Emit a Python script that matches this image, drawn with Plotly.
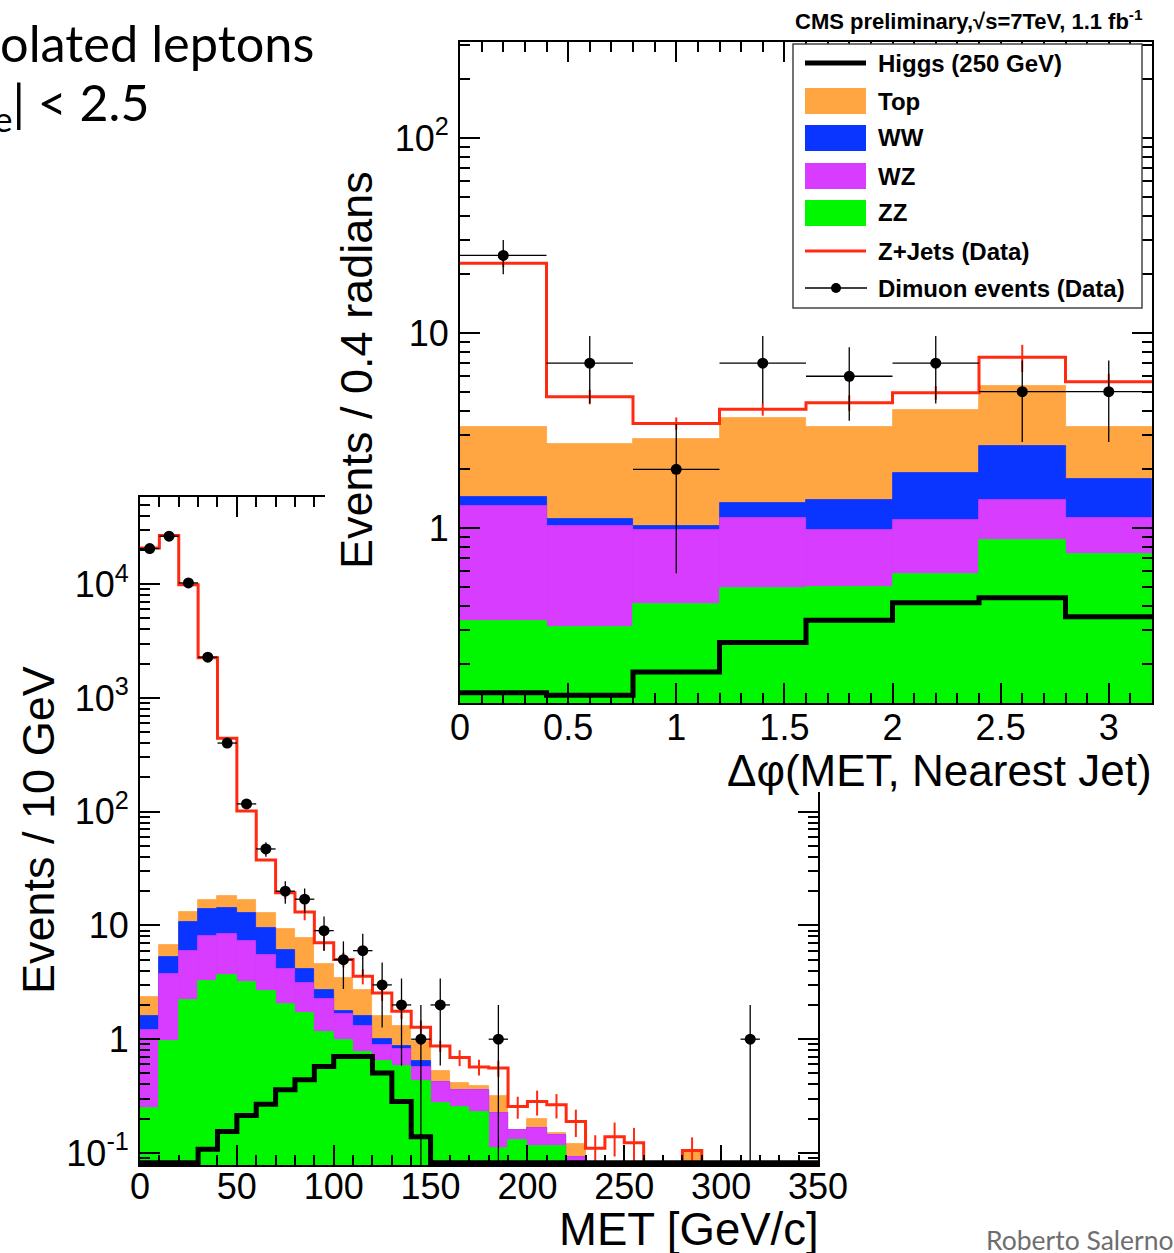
import numpy as np
import plotly.graph_objects as go

W, H = 1174, 1253
FONT = "Liberation Sans, Arial, sans-serif"
SLIDE_FONT = "Lato, Open Sans, sans-serif"

COL_TOP = "#ffa542"
COL_WW = "#0a34ff"
COL_WZ = "#d83cff"
COL_ZZ = "#00f700"
COL_ZJ = "#ff2a10"

# ---------------- MET distribution: 10 GeV bins, 0-350 GeV ----------------
met_bin_edges = list(range(0, 351, 10))
met_zz = [0.248, 0.957, 2.23, 3.23, 3.65, 3.17, 2.64, 2.05, 1.70, 1.15,
          0.99, 0.765, 0.638, 0.576, 0.425, 0.274, 0.256, 0.231, 0.110, 0.130,
          0.114, 0.114, 0.05, 0, 0, 0, 0, 0, 0, 0,
          0, 0, 0, 0, 0]
met_wz = [0.962, 2.79, 3.71, 4.82, 4.68, 4.10, 2.91, 2.05, 1.43, 1.11,
          0.69, 0.535, 0.257, 0.243, 0.144, 0.146, 0.103, 0.123, 0.114, 0.030,
          0.051, 0.030, 0.043, 0, 0, 0, 0, 0, 0, 0,
          0, 0, 0, 0, 0]
met_ww = [0.38, 1.51, 4.86, 5.95, 5.97, 5.63, 3.86, 1.96, 1.02, 0.47,
          0.08, 0.29, 0.105, 0.058, 0.069, 0, 0, 0, 0, 0,
          0, 0, 0, 0, 0, 0, 0, 0, 0, 0,
          0, 0, 0, 0, 0]
met_top = [0.74, 1.54, 2.4, 2.7, 3.8, 3.8, 3.49, 3.16, 3.53, 1.86,
           1.70, 1.14, 0.59, 0.423, 0.319, 0.10, 0.052, 0.035, 0.094, 0,
           0.034, 0.007, 0.027, 0, 0, 0, 0, 0, 0.105, 0,
           0, 0, 0, 0, 0]
met_zjets = [20800, 26700, 9900, 2250, 442, 101.6, 37.6, 19.4, 13.1, 7.04,
             5.01, 3.57, 2.55, 1.76, 1.27, 0.87, 0.69, 0.569, 0.557, 0.256,
             0.283, 0.265, 0.189, 0.110, 0.139, 0.123, 0, 0, 0.105, 0,
             0, 0, 0, 0, 0]
met_zjets_err = [0, 0, 0, 0, 0, 0, 0, 2.3, 2.0, 1.05,
                 0.75, 0.54, 0.38, 0.26, 0.19, 0.10, 0.11, 0.09, 0.09, 0.056,
                 0.07, 0.064, 0.051, 0.033, 0.046, 0.043, 0, 0, 0.032, 0,
                 0, 0, 0, 0, 0]
met_higgs = [0, 0, 0, 0.108, 0.154, 0.213, 0.268, 0.359, 0.44, 0.576,
             0.706, 0.706, 0.504, 0.283, 0.139, 0, 0, 0, 0, 0,
             0, 0, 0, 0, 0, 0, 0, 0, 0, 0,
             0, 0, 0, 0, 0]
met_data = [20550, 26400, 10250, 2282, 401, 117, 47, 20, 17, 9,
            5, 6, 3, 2, 1, 2, 0, 0, 1, 0,
            0, 0, 0, 0, 0, 0, 0, 0, 0, 0,
            0, 1, 0, 0, 0]

# ---------------- Delta-phi distribution: 0.4 rad bins ----------------
dphi_bin_edges = [0.0, 0.4, 0.8, 1.2, 1.6, 2.0, 2.4, 2.8, 3.2]
dphi_zz = [0.335, 0.312, 0.408, 0.494, 0.500, 0.581, 0.868, 0.736]
dphi_wz = [0.955, 0.708, 0.569, 0.636, 0.477, 0.519, 0.532, 0.394]
dphi_ww = [0.16, 0.09, 0.053, 0.22, 0.423, 0.82, 1.24, 0.65]
dphi_top = [1.83, 1.59, 1.82, 2.30, 1.88, 2.11, 2.71, 1.50]
dphi_zjets = [22.8, 4.71, 3.44, 4.07, 4.39, 4.94, 7.5, 5.63]
dphi_zjets_err = [1.1, 0.4, 0.25, 0.3, 0.4, 0.4, 1.2, 0.55]
dphi_higgs = [0.143, 0.139, 0.183, 0.259, 0.337, 0.414, 0.439, 0.351]
dphi_data = [25, 7, 2, 7, 6, 7, 5, 5]

# ---------------- tick labels ----------------
met_ytickvals = [0.1, 1, 10, 100, 1000, 10000]
met_yticktext = ["10<sup>-1</sup>", "1", "10", "10<sup>2</sup>", "10<sup>3</sup>", "10<sup>4</sup>"]
dphi_ytickvals = [1, 10, 100]
dphi_yticktext = ["1", "10", "10<sup>2</sup>"]

MET_YRANGE = [-1.106, 4.766]
DPHI_YRANGE = [-0.897, 2.492]


def px(x):
    return x / W


def py(y):
    return 1 - y / H


def stack_traces(edges, zz, wz, ww, top, xa, ya):
    e = np.asarray(edges, float)
    centers = (e[:-1] + e[1:]) / 2
    widths = np.diff(e)
    c1 = np.asarray(zz, float)
    c2 = c1 + np.asarray(wz, float)
    c3 = c2 + np.asarray(ww, float)
    c4 = c3 + np.asarray(top, float)
    out = []
    for cum, col in [(c4, COL_TOP), (c3, COL_WW), (c2, COL_WZ), (c1, COL_ZZ)]:
        y = [float(v) if v > 0 else None for v in cum]
        out.append(go.Bar(x=centers, y=y, width=widths,
                          marker=dict(color=col, line=dict(color=col, width=0.8)),
                          xaxis=xa, yaxis=ya, showlegend=False, hoverinfo="skip"))
    return out


def step_trace(edges, vals, floor, color, width, xa, ya):
    v = [float(a) if a > 0 else floor for a in vals]
    return go.Scatter(x=list(edges), y=v + [v[-1]], mode="lines", line=dict(color=color, width=width, shape="hv"),
                      xaxis=xa, yaxis=ya, showlegend=False, hoverinfo="skip")


def err_trace(edges, vals, errs, xa, ya):
    e = np.asarray(edges, float)
    centers = (e[:-1] + e[1:]) / 2
    xs, ys, es = [], [], []
    for c, v, er in zip(centers, vals, errs):
        if v > 0 and er > 0:
            xs.append(c); ys.append(v); es.append(er)
    return go.Scatter(x=xs, y=ys, mode="markers", marker=dict(size=1, color=COL_ZJ, opacity=0),
                      error_y=dict(type="data", array=es, color=COL_ZJ, thickness=2, width=0),
                      xaxis=xa, yaxis=ya, showlegend=False, hoverinfo="skip")


def data_trace(edges, counts, xa, ya):
    e = np.asarray(edges, float)
    centers = (e[:-1] + e[1:]) / 2
    halfw = np.diff(e) / 2
    xs, ys, ex, ey = [], [], [], []
    for c, n, hw in zip(centers, counts, halfw):
        if n > 0:
            xs.append(c); ys.append(n); ex.append(hw); ey.append(float(np.sqrt(n)))
    return go.Scatter(x=xs, y=ys, mode="markers", marker=dict(size=11, color="black"),
                      error_x=dict(type="data", array=ex, color="black", thickness=1.3, width=0),
                      error_y=dict(type="data", array=ey, color="black", thickness=1.3, width=0),
                      xaxis=xa, yaxis=ya, showlegend=False, hoverinfo="skip")


fig = go.Figure()

# ---- MET plot (subplot xy) ----
for t in stack_traces(met_bin_edges, met_zz, met_wz, met_ww, met_top, "x", "y"):
    fig.add_trace(t)
fig.add_trace(step_trace(met_bin_edges, met_zjets, 10 ** (MET_YRANGE[0] - 1), COL_ZJ, 3, "x", "y"))
fig.add_trace(err_trace(met_bin_edges, met_zjets, met_zjets_err, "x", "y"))
fig.add_trace(step_trace(met_bin_edges, met_higgs, 10 ** (MET_YRANGE[0] + 0.02), "black", 5, "x", "y"))
fig.add_trace(data_trace(met_bin_edges, met_data, "x", "y"))

# ---- white cover (subplot x2y2) : the pasted inset image background ----
fig.add_trace(go.Scatter(x=[0.5], y=[0.5], mode="markers", marker=dict(opacity=0),
                         xaxis="x2", yaxis="y2", showlegend=False, hoverinfo="skip"))

# ---- Delta-phi inset (subplot x3y3) ----
for t in stack_traces(dphi_bin_edges, dphi_zz, dphi_wz, dphi_ww, dphi_top, "x3", "y3"):
    fig.add_trace(t)
fig.add_trace(step_trace(dphi_bin_edges, dphi_zjets, 10 ** (DPHI_YRANGE[0] - 1), COL_ZJ, 3, "x3", "y3"))
fig.add_trace(err_trace(dphi_bin_edges, dphi_zjets, dphi_zjets_err, "x3", "y3"))
fig.add_trace(step_trace(dphi_bin_edges, dphi_higgs, 10 ** (DPHI_YRANGE[0] + 0.02), "black", 5, "x3", "y3"))
fig.add_trace(data_trace(dphi_bin_edges, dphi_data, "x3", "y3"))


def lin_axis(domain, anchor, rng, dtick, minor_dtick, standoff):
    return dict(domain=domain, anchor=anchor, range=rng, tickmode="linear", tick0=0, dtick=dtick,
                ticks="inside", ticklen=20, tickwidth=1.5, tickcolor="black",
                minor=dict(ticks="inside", ticklen=10, tickwidth=1.5, tickcolor="black",
                           dtick=minor_dtick, tick0=0, showgrid=False),
                showline=True, linecolor="black", linewidth=2, mirror="ticks",
                showgrid=False, zeroline=False, automargin=False,
                tickfont=dict(size=36, family=FONT, color="black"),
                ticklabelstandoff=standoff, fixedrange=True)


def log_axis(domain, anchor, rng, tickvals, ticktext, standoff):
    lo, hi = rng
    minor_vals = []
    for d in range(int(np.floor(lo)), int(np.ceil(hi)) + 1):
        for k in range(2, 10):
            v = k * 10.0 ** d
            if lo <= np.log10(v) <= hi:
                minor_vals.append(v)
    return dict(domain=domain, anchor=anchor, type="log", range=rng,
                tickmode="array", tickvals=tickvals, ticktext=ticktext,
                ticks="inside", ticklen=20, tickwidth=1.5, tickcolor="black",
                minor=dict(ticks="inside", ticklen=10, tickwidth=1.5, tickcolor="black",
                           tickmode="array", tickvals=minor_vals, showgrid=False),
                showline=True, linecolor="black", linewidth=2, mirror="ticks",
                showgrid=False, zeroline=False, automargin=False,
                tickfont=dict(size=36, family=FONT, color="black"),
                ticklabelstandoff=standoff, fixedrange=True)


# pixel frames
MET_X = [140, 818]
MET_Y = [497, 1165]
INS_X = [460, 1152]
INS_Y = [42, 703]
COVER_X = [325, 1174]
COVER_Y = [0, 792]

fig.update_layout(
    xaxis=lin_axis([px(MET_X[0]), px(MET_X[1])], "y", [0, 350], 50, 10, -11),
    yaxis=log_axis([py(MET_Y[1]), py(MET_Y[0])], "x", MET_YRANGE, met_ytickvals, met_yticktext, 2),
    xaxis2=dict(domain=[px(COVER_X[0]), px(COVER_X[1])], anchor="y2", range=[0, 1], automargin=False,
                showline=False, showticklabels=False, ticks="", showgrid=False, zeroline=False, fixedrange=True),
    yaxis2=dict(domain=[py(COVER_Y[1]), py(COVER_Y[0])], anchor="x2", range=[0, 1], automargin=False,
                showline=False, showticklabels=False, ticks="", showgrid=False, zeroline=False, fixedrange=True),
    xaxis3=lin_axis([px(INS_X[0]), px(INS_X[1])], "y3", [0, 3.2], 0.5, 0.1, -8),
    yaxis3=log_axis([py(INS_Y[1]), py(INS_Y[0])], "x3", DPHI_YRANGE, dphi_ytickvals, dphi_yticktext, 2),
)

ann = []


def text(t, x, y, xanchor="center", yanchor="middle", size=36, family=FONT, color="black", angle=0):
    ann.append(dict(text=t, x=px(x), y=py(y), xref="paper", yref="paper", xanchor=xanchor, yanchor=yanchor,
                    showarrow=False, textangle=angle, font=dict(size=size, family=family, color=color)))


# axis titles
text("Events / 10 GeV", 38, 830, angle=-90, size=45)
text("MET [GeV/c]", 821, 1229, xanchor="right", size=45.5)
text("Events / 0.4 radians", 357, 370, angle=-90, size=45)
text("\u0394\u03c6(MET, Nearest Jet)", 1154, 770, xanchor="right", size=44)

# header
text("<b>CMS preliminary,\u221as=7TeV, 1.1 fb<sup>-1</sup></b>", 1145, 20, xanchor="right", size=22)

# slide texts
text("olated leptons", -2, 43, xanchor="left", size=50.5, family=SLIDE_FONT)
text("<sub>e</sub>| < 2.5", -8, 106, xanchor="left", size=50, family=SLIDE_FONT)
text("Roberto Salerno", 1176, 1240, xanchor="right", size=26.5, family=SLIDE_FONT, color="#6e6e6e")

# legend
shapes = []


def rect(x0, y0, x1, y1, fill, line_color=None, lw=0):
    shapes.append(dict(type="rect", xref="paper", yref="paper", layer="above",
                       x0=px(x0), x1=px(x1), y0=py(y1), y1=py(y0), fillcolor=fill,
                       line=dict(color=line_color or fill, width=lw)))


def hline(x0, x1, y, color, lw):
    shapes.append(dict(type="line", xref="paper", yref="paper", layer="above",
                       x0=px(x0), x1=px(x1), y0=py(y), y1=py(y), line=dict(color=color, width=lw)))


rect(793, 44, 1142, 308, "white", "#444444", 1.5)
legend_rows = [
    ("Higgs (250 GeV)", 63, "line", "black", 5),
    ("Top", 101, "box", COL_TOP, 0),
    ("WW", 138, "box", COL_WW, 0),
    ("WZ", 176, "box", COL_WZ, 0),
    ("ZZ", 213, "box", COL_ZZ, 0),
    ("Z+Jets (Data)", 251, "line", COL_ZJ, 3),
    ("Dimuon events (Data)", 288, "marker", "black", 1.3),
]
for label, yc, kind, col, lw in legend_rows:
    if kind == "box":
        rect(805, yc - 13, 866, yc + 13, col)
    elif kind == "line":
        hline(805, 866, yc, col, lw)
    else:
        hline(805, 867, yc, col, lw)
        shapes.append(dict(type="circle", xref="paper", yref="paper", layer="above",
                           x0=px(831), x1=px(841), y0=py(yc + 5), y1=py(yc - 5),
                           fillcolor="black", line=dict(color="black", width=0)))
    text("<b>" + label + "</b>", 876, yc, xanchor="left", size=24)

fig.update_layout(
    width=W, height=H, margin=dict(l=0, r=0, t=0, b=0, autoexpand=False),
    paper_bgcolor="white", plot_bgcolor="white",
    barmode="overlay", bargap=0, showlegend=False,
    font=dict(family=FONT, color="black"),
    annotations=ann, shapes=shapes,
)

fig.write_html("out.html", config={"displayModeBar": False})
